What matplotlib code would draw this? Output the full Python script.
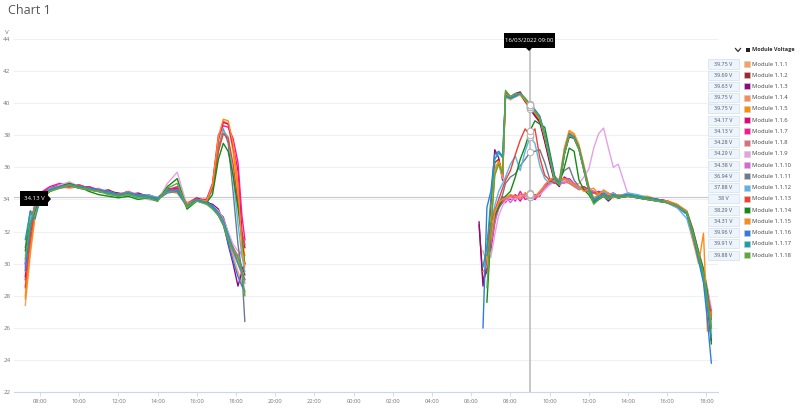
import numpy as np
import matplotlib.pyplot as plt
from matplotlib.patches import Rectangle, Polygon

plt.rcParams['font.family'] = ['Open Sans', 'DejaVu Sans']

nan = np.nan

# hours of day 1 (15/03/2022) and day 2 (16/03/2022)
t_day1 = [7.25, 7.5, 7.75, 8.0, 8.5, 9.0, 9.5, 10.0, 10.5, 11.0, 11.5, 12.0, 12.5, 13.0,
          13.5, 14.0, 14.5, 15.0, 15.5, 16.0, 16.5, 16.8, 17.1, 17.35, 17.6, 17.85, 18.1, 18.3, 18.45]
t_day2 = [6.4, 6.6, 6.8, 7.0, 7.2, 7.4, 7.6, 7.75, 8.0, 8.25, 8.5, 8.75, 9.0, 9.25, 9.5, 9.75,
          10.0, 10.25, 10.5, 10.75, 11.0, 11.25, 11.5, 11.75, 12.0, 12.25, 12.5, 12.75, 13.0,
          13.25, 13.5, 14.0, 14.5, 15.0, 15.5, 16.0, 16.5, 17.0, 17.3, 17.6, 17.85, 18.05, 18.25]

modules = ["Module 1.1.%d" % i for i in range(1, 19)]
colors = ['#f7a35c', '#a0282c', '#8e0a7e', '#f98b5a', '#ff8c00', '#e6007a', '#ff1493',
          '#d9707f', '#e6a0e6', '#d966d6', '#6c7a89', '#5ab4ea', '#f2402e', '#138a13',
          '#ff8a1a', '#2f7de1', '#1a9fae', '#5aab3a']
hover_values = ["39.75", "39.69", "39.63", "39.75", "39.75", "34.17", "34.13", "34.28", "34.29",
                "34.38", "36.94", "37.88", "38", "38.29", "34.31", "39.96", "39.91", "39.88"]

day1 = [
    [27.4, 30.5, 33.0, 34.0, 34.5, 34.7, 34.8, 34.9, 34.6, 34.5, 34.4, 34.2, 34.4, 34.3, 34.1, 34.0, 34.5, 34.6, 33.7, 34.1, 33.8, 33.5, 33.0, 32.5, 31.5, 30.5, 29.5, 28.8, 28.2],
    [29.0, 31.8, 33.4, 34.2, 34.6, 34.8, 35.0, 34.7, 34.8, 34.5, 34.6, 34.3, 34.5, 34.2, 34.3, 34.1, 34.7, 34.5, 33.6, 34.0, 33.9, 33.6, 33.2, 32.9, 31.9, 31.0, 30.4, 29.8, 29.3],
    [30.0, 32.6, 33.6, 34.3, 34.7, 34.9, 34.8, 34.9, 34.7, 34.6, 34.5, 34.4, 34.3, 34.4, 34.2, 34.0, 34.6, 34.7, 33.5, 34.0, 33.8, 33.7, 33.4, 32.6, 31.2, 30.0, 28.6, 29.5, 30.0],
    [28.6, 31.2, 33.2, 34.1, 34.6, 34.8, 34.7, 34.8, 34.6, 34.7, 34.4, 34.3, 34.4, 34.3, 34.2, 34.1, 34.5, 34.6, 33.8, 34.1, 33.7, 33.5, 33.1, 32.7, 31.7, 30.9, 30.2, 29.6, 29.0],
    [28.0, 31.0, 33.1, 34.0, 34.5, 34.8, 34.9, 34.7, 34.6, 34.5, 34.5, 34.3, 34.3, 34.2, 34.2, 34.0, 34.5, 34.4, 33.6, 34.0, 34.0, 34.9, 37.6, 38.9, 38.7, 37.0, 34.5, 31.5, 30.5],
    [29.2, 32.0, 33.5, 34.3, 34.7, 34.9, 34.8, 34.8, 34.7, 34.5, 34.4, 34.3, 34.4, 34.3, 34.2, 34.1, 34.6, 34.7, 33.7, 34.1, 33.9, 34.8, 37.8, 38.8, 38.7, 37.3, 35.8, 32.0, 31.0],
    [29.8, 32.4, 33.8, 34.4, 34.8, 35.0, 34.9, 34.7, 34.8, 34.6, 34.5, 34.3, 34.4, 34.2, 34.3, 34.0, 34.6, 34.8, 33.6, 34.0, 34.0, 35.0, 38.0, 38.6, 38.5, 37.8, 36.3, 33.0, 31.5],
    [29.5, 32.1, 33.4, 34.2, 34.6, 34.8, 34.9, 34.8, 34.6, 34.5, 34.4, 34.3, 34.5, 34.3, 34.2, 34.1, 34.5, 34.6, 33.7, 34.0, 33.8, 33.5, 33.1, 32.7, 31.8, 31.0, 30.5, 30.8, 31.5],
    [30.5, 32.8, 33.5, 34.2, 34.6, 34.9, 35.1, 34.8, 34.7, 34.5, 34.4, 34.2, 34.3, 34.2, 34.0, 33.9, 35.0, 35.7, 33.6, 33.9, 33.7, 33.6, 33.3, 32.8, 32.0, 31.2, 30.8, 30.5, 30.0],
    [30.0, 32.3, 33.6, 34.2, 34.6, 34.7, 34.8, 34.9, 34.6, 34.6, 34.4, 34.3, 34.4, 34.3, 34.1, 34.0, 34.6, 34.5, 33.5, 34.0, 33.8, 33.6, 33.2, 32.6, 31.6, 30.7, 30.0, 29.3, 28.8],
    [31.0, 33.3, 33.0, 34.0, 34.6, 34.8, 34.9, 34.7, 34.6, 34.5, 34.4, 34.2, 34.4, 34.2, 34.2, 34.0, 34.4, 34.5, 33.7, 34.0, 33.9, 34.6, 37.2, 38.4, 37.5, 34.5, 31.2, 29.5, 26.4],
    [30.2, 33.0, 33.2, 34.1, 34.7, 34.8, 34.8, 34.8, 34.7, 34.5, 34.5, 34.3, 34.3, 34.2, 34.3, 34.1, 34.5, 34.5, 33.6, 33.9, 33.9, 34.6, 37.0, 38.3, 37.9, 35.5, 32.5, 30.5, 29.5],
    [28.5, 31.3, 33.3, 34.1, 34.6, 34.8, 34.8, 34.9, 34.7, 34.5, 34.5, 34.3, 34.4, 34.3, 34.2, 34.0, 34.6, 34.6, 33.7, 34.0, 33.9, 34.7, 37.0, 38.1, 37.8, 36.2, 33.8, 31.8, 31.2],
    [30.8, 32.5, 33.3, 33.9, 34.5, 34.8, 35.0, 34.8, 34.5, 34.3, 34.2, 34.1, 34.2, 34.0, 34.1, 33.9, 34.8, 35.3, 33.4, 33.9, 33.8, 34.3, 36.5, 37.5, 37.0, 35.5, 33.5, 31.5, 30.0],
    [27.8, 30.8, 33.0, 34.0, 34.5, 34.8, 34.9, 34.8, 34.6, 34.5, 34.4, 34.3, 34.4, 34.3, 34.2, 34.1, 34.5, 34.5, 33.7, 34.0, 33.9, 34.9, 37.9, 39.0, 38.9, 37.5, 35.0, 31.0, 29.8],
    [29.6, 32.2, 33.5, 34.2, 34.6, 34.8, 34.9, 34.8, 34.7, 34.6, 34.5, 34.3, 34.4, 34.3, 34.2, 34.0, 34.6, 34.5, 33.6, 34.0, 33.8, 33.5, 33.0, 32.4, 31.3, 30.2, 29.2, 28.6, 28.3],
    [31.5, 33.2, 32.8, 34.0, 34.6, 34.8, 34.9, 34.8, 34.7, 34.5, 34.4, 34.3, 34.4, 34.2, 34.2, 34.1, 34.5, 34.6, 33.6, 34.0, 33.8, 33.6, 33.2, 32.7, 31.8, 30.9, 30.0, 29.5, 29.0],
    [30.3, 32.5, 33.5, 34.1, 34.5, 34.7, 34.9, 34.7, 34.6, 34.5, 34.3, 34.2, 34.3, 34.1, 34.1, 33.9, 34.7, 35.0, 33.5, 33.9, 33.7, 33.4, 33.0, 32.4, 31.5, 30.8, 30.4, 29.6, 28.0],
]

day2 = [
    [nan, 30.8, 30.0, 32.5, 35.5, 36.4, 35.8, 40.4, 40.2, 40.4, 40.5, 40.1, 39.75, 39.3, 38.9, 37.8, 36.5, 35.3, 35.1, 37.1, 38.2, 38.0, 37.3, 36.1, 34.8, 34.0, 34.2, 34.4, 34.1, 34.3, 34.2, 34.3, 34.1, 34.1, 33.9, 33.8, 33.6, 33.2, 32.1, 30.5, 29.5, 27.8, 25.8],
    [32.4, 29.0, 29.5, 32.0, 36.3, 36.5, 35.4, 40.5, 40.3, 40.5, 40.6, 40.1, 39.69, 39.3, 38.9, 37.7, 36.4, 35.2, 34.9, 36.9, 38.0, 37.9, 37.2, 35.9, 34.6, 33.9, 34.1, 34.2, 34.0, 34.2, 34.1, 34.2, 34.1, 34.0, 34.0, 33.9, 33.6, 33.2, 32.0, 30.5, 29.3, 27.6, 26.0],
    [32.6, 28.6, 30.0, 33.5, 37.1, 36.6, 35.2, 40.7, 40.4, 40.6, 40.7, 40.2, 39.63, 39.2, 38.8, 37.6, 36.3, 35.1, 34.8, 36.8, 37.9, 37.8, 37.1, 35.8, 34.5, 33.8, 34.0, 34.2, 33.9, 34.2, 34.1, 34.2, 34.1, 34.0, 33.9, 33.8, 33.5, 33.1, 31.9, 30.3, 29.0, 27.3, 25.2],
    [nan, 29.5, 29.8, 32.2, 35.8, 36.2, 35.3, 40.5, 40.3, 40.5, 40.6, 40.2, 39.75, 39.4, 39.0, 37.9, 36.6, 35.3, 35.1, 37.0, 38.2, 38.0, 37.3, 36.0, 34.7, 34.0, 34.2, 34.3, 34.1, 34.4, 34.2, 34.3, 34.2, 34.1, 34.0, 33.9, 33.7, 33.3, 32.2, 30.7, 29.5, 28.0, 26.2],
    [nan, nan, 30.2, 32.8, 35.9, 36.4, 35.7, 40.6, 40.3, 40.5, 40.6, 40.2, 39.75, 39.4, 39.0, 37.9, 36.7, 35.4, 35.2, 37.2, 38.3, 38.1, 37.4, 36.1, 34.8, 34.1, 34.3, 34.4, 34.1, 34.3, 34.2, 34.4, 34.2, 34.2, 34.0, 33.9, 33.7, 33.2, 32.1, 30.6, 29.6, 28.4, 26.8],
    [nan, nan, nan, 31.0, 32.8, 33.5, 33.8, 34.1, 34.0, 34.3, 33.9, 34.4, 34.17, 34.0, 34.4, 34.8, 35.1, 35.3, 35.0, 35.4, 35.2, 34.9, 34.7, 34.8, 34.6, 34.5, 34.4, 34.5, 34.3, 34.4, 34.2, 34.3, 34.2, 34.1, 34.0, 33.9, 33.6, 33.2, 32.1, 30.7, 29.6, 28.3, 27.0],
    [nan, nan, nan, 30.8, 32.5, 33.7, 34.2, 33.8, 34.3, 33.9, 34.5, 34.0, 34.13, 34.3, 34.2, 34.9, 35.2, 35.4, 35.1, 35.2, 35.3, 35.0, 34.8, 34.6, 34.7, 34.4, 34.5, 34.4, 34.3, 34.3, 34.2, 34.3, 34.1, 34.1, 34.0, 33.9, 33.6, 33.1, 32.0, 30.6, 29.5, 28.1, 26.8],
    [nan, nan, 30.5, 31.8, 33.0, 33.6, 33.9, 34.0, 34.2, 34.1, 34.3, 34.2, 34.28, 34.1, 34.3, 34.7, 35.0, 35.2, 34.9, 35.1, 35.0, 34.8, 34.6, 34.7, 34.5, 34.4, 34.3, 34.4, 34.3, 34.2, 34.2, 34.3, 34.1, 34.0, 34.0, 33.8, 33.5, 33.1, 32.0, 30.5, 29.4, 28.0, 26.6],
    [nan, nan, nan, 30.4, 31.8, 33.0, 33.6, 33.9, 34.1, 34.0, 34.2, 34.3, 34.29, 34.2, 34.3, 34.6, 34.9, 35.1, 35.0, 35.2, 35.1, 34.9, 35.0, 35.4, 35.9, 37.2, 38.1, 38.45, 37.2, 36.0, 36.2, 34.3, 34.1, 34.0, 33.9, 33.8, 33.5, 33.2, 32.2, 30.8, 29.7, 28.5, 27.2],
    [nan, nan, nan, 31.2, 32.6, 33.4, 33.9, 34.2, 33.8, 34.2, 34.0, 34.3, 34.38, 34.1, 34.5, 34.8, 35.0, 35.2, 35.1, 35.0, 35.2, 35.0, 34.7, 34.6, 34.6, 34.5, 34.4, 34.3, 34.4, 34.2, 34.3, 34.2, 34.1, 34.0, 33.9, 33.8, 33.5, 33.1, 32.0, 30.6, 29.5, 28.2, 26.9],
    [nan, nan, 30.5, 31.5, 32.8, 33.6, 34.3, 35.0, 35.4, 35.6, 36.1, 36.5, 36.94, 37.0, 37.1, 36.3, 35.3, 35.0, 35.3, 35.8, 36.0, 35.2, 34.8, 34.6, 34.5, 34.4, 34.3, 34.4, 34.3, 34.3, 34.2, 34.3, 34.2, 34.1, 34.0, 33.9, 33.6, 33.2, 32.1, 30.6, 29.5, 28.0, 26.5],
    [nan, nan, 31.5, 32.5, 33.6, 34.5, 35.0, 35.4, 36.2, 36.7, 35.8, 37.0, 37.88, 37.5, 36.1, 35.3, 35.0, 35.2, 35.0, 35.3, 35.2, 34.9, 34.7, 34.6, 34.5, 34.4, 34.3, 34.5, 34.3, 34.4, 34.2, 34.4, 34.3, 34.1, 34.0, 33.8, 33.5, 32.8, 31.5, 30.5, 29.0, 27.5, 26.2],
    [nan, nan, 31.0, 32.5, 33.3, 34.0, 34.7, 35.2, 35.8, 36.8, 37.7, 38.4, 38.0, 38.4, 36.6, 35.5, 35.2, 35.0, 35.2, 35.3, 35.1, 34.9, 34.8, 34.6, 34.5, 34.4, 34.4, 34.3, 34.2, 34.3, 34.2, 34.3, 34.1, 34.1, 34.0, 33.9, 33.6, 33.2, 32.1, 30.7, 29.6, 28.1, 26.8],
    [nan, nan, 27.6, 31.8, 33.0, 33.5, 34.0, 34.2, 34.5, 35.4, 36.5, 37.3, 38.29, 38.9, 38.7, 38.5, 37.0, 35.5, 35.0, 36.0, 37.2, 37.0, 35.2, 34.6, 34.3, 33.8, 34.0, 34.2, 34.0, 34.2, 34.1, 34.3, 34.1, 34.0, 33.9, 33.8, 33.6, 33.2, 32.1, 30.7, 29.6, 28.2, 25.0],
    [nan, nan, nan, 31.5, 33.2, 33.8, 34.0, 34.1, 34.3, 34.2, 34.1, 34.4, 34.31, 34.2, 34.5, 34.9, 35.2, 35.4, 35.2, 35.3, 35.1, 34.9, 34.8, 34.5, 34.6, 34.7, 34.3, 34.6, 34.4, 34.1, 34.3, 34.2, 34.2, 34.1, 33.9, 33.9, 33.6, 33.2, 31.5, 30.0, 31.9, 25.8, 27.0],
    [nan, 26.0, 33.5, 34.5, 36.8, 37.0, 36.7, 40.5, 40.3, 40.5, 40.6, 40.3, 39.96, 39.6, 39.2, 38.1, 36.8, 35.4, 35.0, 36.9, 38.1, 37.9, 37.2, 35.9, 34.6, 33.9, 34.1, 34.2, 34.0, 34.2, 34.1, 34.3, 34.1, 34.1, 34.0, 33.8, 33.6, 33.1, 31.8, 30.2, 28.8, 26.5, 23.8],
    [nan, 29.8, 31.0, 34.0, 36.5, 36.9, 36.6, 40.4, 40.3, 40.4, 40.6, 40.3, 39.91, 39.5, 39.1, 38.0, 36.7, 35.3, 35.0, 36.9, 38.0, 37.9, 37.2, 35.9, 34.7, 34.0, 34.2, 34.3, 34.1, 34.3, 34.2, 34.3, 34.2, 34.1, 34.0, 33.8, 33.6, 33.1, 31.9, 30.4, 29.2, 27.5, 25.4],
    [nan, nan, 28.5, 32.0, 35.5, 36.2, 35.6, 40.8, 40.4, 40.6, 40.6, 40.3, 39.88, 39.5, 39.1, 38.0, 36.6, 35.2, 34.9, 36.8, 38.0, 37.8, 37.1, 35.8, 34.5, 33.7, 34.0, 34.2, 34.0, 34.2, 34.1, 34.2, 34.1, 34.0, 33.9, 33.8, 33.6, 33.2, 32.0, 30.6, 29.4, 27.9, 26.0],
]

hover_time = 24 + 9.0     # 16/03/2022 09:00
hover_level = 34.13

W, H = 800, 409


def fx(x):
    return x / W


def fy(y):
    return 1 - y / H


fig = plt.figure(figsize=(8, 4.09), dpi=100)
ax = fig.add_axes([fx(14), 17 / H, 704 / W, 353 / H])

t1 = np.array(t_day1)
t2 = np.array(t_day2) + 24
for i in range(18):
    ax.plot(t1, day1[i], color=colors[i], lw=1.0, zorder=3)
    ax.plot(t2, day2[i], color=colors[i], lw=1.0, zorder=3)

ax.set_xlim(6.673, 42.59)
ax.set_ylim(22, 44)
ax.set_yticks(range(22, 45, 2))
ax.set_yticklabels([str(v) for v in range(22, 45, 2)])
xt = list(range(8, 43, 2))
ax.set_xticks(xt)
ax.set_xticklabels(["%02d:00" % (h % 24) for h in xt])
ax.grid(axis='y', color='#edf1f7', lw=0.8, zorder=0)
for s in ['top', 'right', 'left']:
    ax.spines[s].set_visible(False)
ax.spines['bottom'].set_color('#ccd6eb')
ax.spines['bottom'].set_linewidth(0.8)
ax.tick_params(axis='y', length=0, pad=2.5, labelsize=4.5, labelcolor='#777777')
ax.tick_params(axis='x', length=3, width=0.6, color='#ccd6eb', pad=2, labelsize=4.2, labelcolor='#777777')

# crosshairs
ax.axvline(hover_time, ymax=(43.45 - 22) / 22, color='#bdbdbd', lw=1.2, zorder=4)
ax.axhline(hover_level, color='#c8c8c8', lw=0.8, zorder=2)
ax.scatter([hover_time] * 18, [d[12] for d in day2], s=22, facecolor='white',
           edgecolor='#b0b0b0', linewidth=0.7, zorder=5)

# titles
fig.text(fx(8), fy(10), "Chart 1", fontsize=9, color='#555555', va='center', ha='left')
fig.text(fx(5), fy(32), "V", fontsize=4.5, color='#777777', va='center', ha='left')

# top tooltip
fig.patches.append(Rectangle((fx(504), fy(48)), 51 / W, 15 / H, transform=fig.transFigure,
                             facecolor='black', edgecolor='none', zorder=10))
fig.patches.append(Polygon([(fx(526), fy(48)), (fx(532), fy(48)), (fx(529), fy(51))],
                           closed=True, transform=fig.transFigure, facecolor='black', zorder=10))
fig.text(fx(529.5), fy(40.5), "16/03/2022 09:00", fontsize=4.3, color='white',
         ha='center', va='center', zorder=11)

# left tooltip
fig.patches.append(Rectangle((fx(20), fy(206)), 28 / W, 15 / H, transform=fig.transFigure,
                             facecolor='black', edgecolor='none', zorder=10))
fig.patches.append(Polygon([(fx(48), fy(195.5)), (fx(48), fy(202.5)), (fx(51), fy(199))],
                           closed=True, transform=fig.transFigure, facecolor='black', zorder=10))
fig.text(fx(34), fy(198.5), "34.13 V", fontsize=4.3, color='white', ha='center', va='center', zorder=11)

# legend header
fig.lines.append(plt.Line2D([fx(735.5), fx(738), fx(740.5)], [fy(48.5), fy(51.5), fy(48.5)],
                            transform=fig.transFigure, color='#333333', lw=0.9))
fig.patches.append(Rectangle((fx(746), fy(52)), 4 / W, 4 / H, transform=fig.transFigure,
                             facecolor='#222222', edgecolor='none'))
fig.text(fx(752.5), fy(50), "Module Voltage", fontsize=4.0, color='#333333', weight='bold',
         ha='left', va='center')

# legend rows
for i in range(18):
    yc = 64 + i * 11.24
    fig.patches.append(Rectangle((fx(708), fy(yc + 4.5)), 31 / W, 9 / H, transform=fig.transFigure,
                                 facecolor='#eef4fb', edgecolor='#d3e0ee', lw=0.5))
    fig.text(fx(723.5), fy(yc), hover_values[i] + " V", fontsize=3.9, color='#4a5568',
             ha='center', va='center')
    fig.patches.append(Rectangle((fx(744), fy(yc + 3)), 6 / W, 6 / H, transform=fig.transFigure,
                                 facecolor=colors[i], edgecolor='#cccccc', lw=0.4))
    fig.text(fx(752), fy(yc), modules[i], fontsize=4.2, color='#444444', ha='left', va='center')

fig.savefig("out.png", dpi=100)
